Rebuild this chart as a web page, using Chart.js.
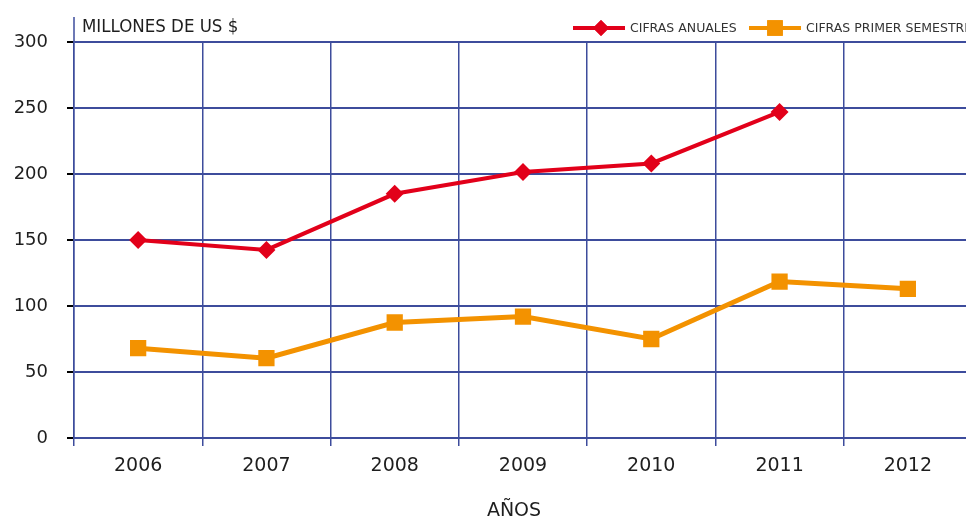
<!DOCTYPE html>
<html><head><meta charset="utf-8">
<script src="https://cdn.jsdelivr.net/npm/chart.js@4/dist/chart.umd.min.js"></script>
<style>html,body{margin:0;padding:0;overflow:hidden;background:#fff;width:966px;height:519px}
#wrap{width:990px;height:519px}</style>
</head><body>
<div id="wrap"><canvas id="c" width="990" height="519" style="width:990px;height:519px"></canvas></div>
<script>
const categories = ['2006','2007','2008','2009','2010','2011','2012'];
const anuales = [150, 142.5, 185, 201.5, 208, 247, null];
const semestre = [68, 60.5, 87.5, 92, 75, 118.5, 113];
const yTicks = [0, 50, 100, 150, 200, 250, 300];
const seriesNames = ['CIFRAS ANUALES', 'CIFRAS PRIMER SEMESTRE'];
const yTitle = 'MILLONES DE US $';
const xTitle = 'AÑOS';

const RED = '#e2001a', ORANGE = '#f39200', BLUE = '#3d4c9c', TXT = '#1e1e1e';
const FONT = "'DejaVu Sans', sans-serif";
const NARROW = "'Liberation Sans Narrow', 'DejaVu Sans Condensed', sans-serif";

const extras = {
  id: 'extras',
  afterDraw(chart) {
    const ctx = chart.ctx, a = chart.chartArea;
    ctx.save();
    ctx.strokeStyle = BLUE; ctx.lineWidth = 1.5;
    ctx.beginPath(); ctx.moveTo(a.left, 17); ctx.lineTo(a.left, a.top); ctx.stroke();
    ctx.fillStyle = TXT; ctx.font = '18.5px ' + NARROW; ctx.textBaseline = 'middle'; ctx.textAlign = 'left';
    ctx.fillText(yTitle, a.left + 8, 27);
    ctx.font = '19px ' + FONT; ctx.textAlign = 'center';
    ctx.fillText(xTitle, 514, 511);
    const items = [
      {x0: 573, x1: 625, px: 601, color: RED, style: 'rectRot', r: 8, lw: 4, tx: 630},
      {x0: 749, x1: 801, px: 775, color: ORANGE, style: 'rect', r: 11, lw: 4, tx: 806}
    ];
    const ly = 28;
    items.forEach((it, i) => {
      ctx.strokeStyle = it.color; ctx.lineWidth = it.lw;
      ctx.beginPath(); ctx.moveTo(it.x0, ly); ctx.lineTo(it.x1, ly); ctx.stroke();
      ctx.fillStyle = it.color;
      Chart.helpers.drawPoint(ctx, {pointStyle: it.style, radius: it.r, rotation: 0, borderWidth: 0}, it.px, ly);
      ctx.fill();
      ctx.fillStyle = '#333'; ctx.font = '12.5px ' + FONT; ctx.textBaseline = 'middle'; ctx.textAlign = 'left';
      ctx.fillText(seriesNames[i], it.tx, ly + 1);
    });
    ctx.restore();
  }
};

new Chart(document.getElementById('c'), {
  type: 'line',
  data: {
    labels: categories,
    datasets: [
      {label: seriesNames[0], data: anuales, borderColor: RED, backgroundColor: RED, borderWidth: 4,
       pointStyle: 'rectRot', pointRadius: 9, pointHoverRadius: 9, pointBorderWidth: 0, tension: 0, spanGaps: false},
      {label: seriesNames[1], data: semestre, borderColor: ORANGE, backgroundColor: ORANGE, borderWidth: 5,
       pointStyle: 'rect', pointRadius: 11.5, pointHoverRadius: 11.5, pointBorderWidth: 0, tension: 0}
    ]
  },
  options: {
    responsive: false, animation: false, devicePixelRatio: 1,
    layout: {padding: {top: 42, right: 18, bottom: 0, left: 0}},
    plugins: {legend: {display: false}, tooltip: {enabled: false}, title: {display: false}},
    scales: {
      x: {
        offset: true,
        grid: {offset: true, color: BLUE, lineWidth: 1.5, tickLength: 8, tickColor: BLUE, drawTicks: true},
        border: {display: true, color: BLUE, width: 2},
        ticks: {color: TXT, font: {family: FONT, size: 19}, padding: 9, maxRotation: 0},
        title: {display: false},
        afterFit(s) { s.height = 81; }
      },
      y: {
        min: 0, max: 300,
        afterBuildTicks(s) { s.ticks = yTicks.map(v => ({value: v})); },
        grid: {color: BLUE, lineWidth: 2, tickLength: 7, tickColor: '#000'},
        border: {display: true, color: BLUE, width: 1.5},
        ticks: {color: TXT, font: {family: FONT, size: 18}, padding: 19},
        afterFit(s) { s.width = 74; }
      }
    }
  },
  plugins: [extras]
});
</script>
</body></html>
